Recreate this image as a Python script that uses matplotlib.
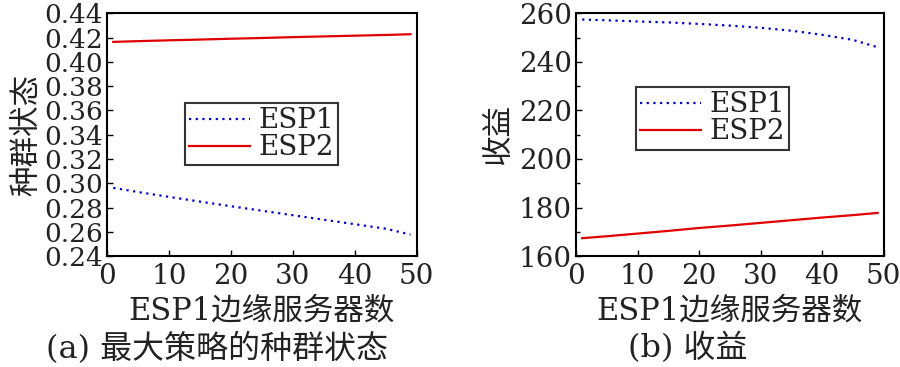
import numpy as np
import matplotlib
matplotlib.use('Agg')
import matplotlib.pyplot as plt
from matplotlib.ticker import MultipleLocator

plt.rcParams['font.family'] = ['DejaVu Serif', 'Noto Sans CJK SC']

# 数据
x = [1, 5, 10, 15, 20, 25, 30, 35, 40, 45, 49]
state_esp1 = [0.2962, 0.2928, 0.2888, 0.2849, 0.2811, 0.2774, 0.2737, 0.2700, 0.2663, 0.2626, 0.2578]
state_esp2 = [0.4164, 0.4170, 0.4177, 0.4183, 0.4190, 0.4196, 0.4203, 0.4209, 0.4215, 0.4221, 0.4227]
profit_esp1 = [257.4, 257.1, 256.6, 256.2, 255.6, 254.9, 254.0, 252.8, 251.1, 249.0, 246.0]
profit_esp2 = [167.4, 168.2, 169.3, 170.4, 171.6, 172.6, 173.7, 174.8, 175.9, 176.9, 177.8]

xlabel = 'ESP1边缘服务器数'
fs_tick = 20
fs_lab = 22

fig = plt.figure(figsize=(9, 3.67), dpi=100)
ax1 = fig.add_axes([0.119, 0.302, 0.344, 0.662])
ax2 = fig.add_axes([0.640, 0.302, 0.342, 0.662])

for ax, y1, y2 in [(ax1, state_esp1, state_esp2), (ax2, profit_esp1, profit_esp2)]:
    ax.plot(x, y1, color='#0000c8', linestyle=(0, (1, 2)), linewidth=1.6, label='ESP1')
    ax.plot(x, y2, color='#e00000', linestyle='-', linewidth=1.6, label='ESP2')
    ax.set_xlim(0, 50)
    ax.xaxis.set_major_locator(MultipleLocator(10))
    ax.tick_params(axis='x', pad=5)
    ax.tick_params(axis='y', pad=3)
    ax.tick_params(direction='in', labelsize=fs_tick, length=4, width=1, top=False, right=False,
                   labelcolor='#222222')
    ax.tick_params(which='minor', direction='in', length=3, width=1)
    for s in ax.spines.values():
        s.set_linewidth(1.5)
    ax.set_xlabel(xlabel, fontsize=fs_lab, labelpad=4, color='#222222')

# 左图刻度较密，字号略小
ax1.set_ylim(0.24, 0.44)
ax1.set_yticks(np.arange(0.24, 0.441, 0.02))
ax1.set_yticklabels(['%.2f' % v for v in np.arange(0.24, 0.441, 0.02)], fontsize=19)
ax1.set_ylabel('种群状态', fontsize=fs_lab, labelpad=1, color='#222222')

ax2.set_ylim(160, 260)
ax2.yaxis.set_major_locator(MultipleLocator(20))
ax2.yaxis.set_minor_locator(MultipleLocator(10))
ax2.set_ylabel('收益', fontsize=fs_lab, labelpad=3, color='#222222')

leg_kw = dict(fontsize=fs_tick, frameon=True, fancybox=False, edgecolor='black',
              handlelength=2.2, handletextpad=0.3, borderpad=0.15, labelspacing=0.0,
              borderaxespad=0)
l1 = ax1.legend(loc='upper left', bbox_to_anchor=(0.25, 0.63), **leg_kw)
l2 = ax2.legend(loc='upper left', bbox_to_anchor=(0.195, 0.695), **leg_kw)
for l in (l1, l2):
    l.get_frame().set_linewidth(1.5)
    for t in l.get_texts():
        t.set_color('#222222')

fig.text(0.241, 0.05, '(a) 最大策略的种群状态', ha='center', va='center', fontsize=fs_lab + 1,
         color='#222222')
fig.text(0.764, 0.05, '(b) 收益', ha='center', va='center', fontsize=fs_lab + 1, color='#222222')

fig.savefig('out.png', dpi=100)
